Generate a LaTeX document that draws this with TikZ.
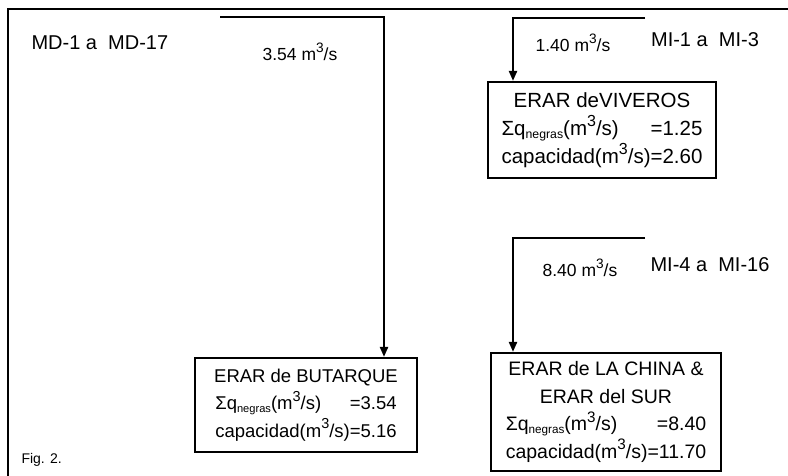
\documentclass[tikz,border=0pt]{standalone}
\usepackage{fontspec}
\setmainfont{Liberation Sans}
\usepackage{calc}
\usepackage{graphicx}
\usetikzlibrary{arrows.meta}
\newcommand\cub{\raisebox{0.85ex}{\scalebox{0.78}{3}}}
\newcommand\sq{Σq\raisebox{-0.3ex}{\scalebox{0.6}{negras}}}
\newcommand\qline[2]{\makebox[\widthof{capacidad(m\cub/s)=#2}][s]{\sq(m\cub/s)\hfill=#1}}
\tikzset{
  frameline/.style={line width=2.2pt},
  conn/.style={line width=2.2pt,-{Triangle[length=10pt,width=8pt]}},
  erar/.style={draw,line width=2.2pt,align=center,inner sep=0pt},
  lbl/.style={font=\fontsize{20}{22}\selectfont},
  flow/.style={font=\fontsize{17.5}{18}\selectfont},
}
\begin{document}
\begin{tikzpicture}[x=1pt,y=-1pt]
\useasboundingbox (0,0) rectangle (788,476);
\fill[white] (0,0) rectangle (788,476);
% frame
\draw[frameline] (8,476) -- (8,9) -- (788,9);
% boxes
\node[erar,minimum width=222pt,minimum height=94pt,font=\fontsize{18.5}{27.5}\selectfont] (but) at (306,405)
  {ERAR de BUTARQUE\\ \qline{3.54}{5.16}\\ capacidad(m\cub/s)=5.16};
\node[erar,minimum width=228pt,minimum height=96pt,font=\fontsize{20.5}{28}\selectfont] (viv) at (602,130)
  {ERAR deVIVEROS\\ \qline{1.25}{2.60}\\ capacidad(m\cub/s)=2.60};
\node[erar,minimum width=230pt,minimum height=118pt,font=\fontsize{19.5}{27.5}\selectfont] (chi) at (606,412)
  {ERAR de LA CHINA \&\\ ERAR del SUR\\ \qline{8.40}{11.70}\\ capacidad(m\cub/s)=11.70};
% connectors
\coordinate (b0) at (220,17);
\coordinate (b1) at (384,17);
\draw[conn] (b0) -- (b1) -- (b1 |- but.north);
\coordinate (v0) at (645,18);
\coordinate (v1) at (513,18);
\draw[conn] (v0) -- (v1) -- (v1 |- viv.north);
\coordinate (c0) at (645,238);
\coordinate (c1) at (513,238);
\draw[conn] (c0) -- (c1) -- (c1 |- chi.north);
% labels
\node[lbl,anchor=west] (md) at (28,43) {MD-1 a~ MD-17};
\node[flow] (q1) at (300,52) {3.54 m\cub/s};
\node[flow] (q2) at (573,43) {1.40 m\cub/s};
\node[lbl] (mi1) at (705,40) {MI-1 a~ MI-3};
\node[flow] (q3) at (580,268) {8.40 m\cub/s};
\node[lbl] (mi4) at (710,265) {MI-4 a~ MI-16};
\node[anchor=west,font=\fontsize{14}{14}\selectfont] (fig) at (18,460) {Fig. 2.};
\end{tikzpicture}
\end{document}
